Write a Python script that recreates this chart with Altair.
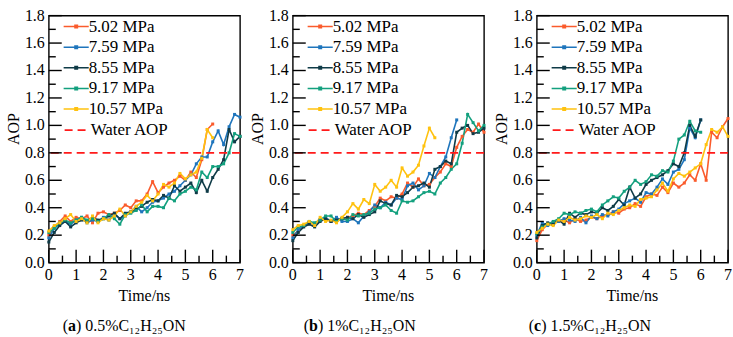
import altair as alt
import pandas as pd

# Simulation time grid (ns)
TIME = [0.0, 0.2, 0.4, 0.6, 0.8, 1.0, 1.2, 1.4, 1.6, 1.8, 2.0, 2.2, 2.4, 2.6, 2.8,
        3.0, 3.2, 3.4, 3.6, 3.8, 4.0, 4.2, 4.4, 4.6, 4.8, 5.0, 5.2, 5.4, 5.6, 5.8,
        6.0, 6.2, 6.4, 6.6, 6.8, 7.0]

PRESSURES = ["5.02 MPa", "7.59 MPa", "8.55 MPa", "9.17 MPa", "10.57 MPa"]
COLORS = ["#FA5B2C", "#1E75BC", "#0F3B47", "#13A07E", "#FFC20F"]

WATER_LABEL = "Water AOP"
WATER_AOP = 0.8
WATER_COLOR = "#FF1A1A"

Y_TICKS = [0.0, 0.2, 0.4, 0.6, 0.8, 1.0, 1.2, 1.4, 1.6, 1.8]
Y_LABELS = ["0.0", "0.2", "0.4", "0.6", "0.8", "1.0", "1.2", "1.4", "1.6", "1.8"]
Y_MINOR = [0.1, 0.3, 0.5, 0.7, 0.9, 1.1, 1.3, 1.5, 1.7]
X_TICKS = [0, 1, 2, 3, 4, 5, 6, 7]
X_LABELS = ["0", "1", "2", "3", "4", "5", "6", "7"]
X_MINOR = [0.5, 1.5, 2.5, 3.5, 4.5, 5.5, 6.5]
X_TITLE = "Time/ns"
Y_TITLE = "AOP"

# (a) 0.5% C12H25ON
A_502 = [0.20, 0.26, 0.30, 0.34, 0.30, 0.33, 0.32, 0.34, 0.29, 0.36, 0.37, 0.35, 0.36, 0.38, 0.42,
         0.40, 0.45, 0.45, 0.50, 0.59, 0.51, 0.55, 0.58, 0.60, 0.63, 0.60, 0.66, 0.62, 0.75, 0.97, 1.01]
A_759 = [0.18, 0.25, 0.28, 0.30, 0.28, 0.31, 0.33, 0.29, 0.31, 0.30, 0.33, 0.31, 0.35, 0.32, 0.34,
         0.37, 0.41, 0.37, 0.40, 0.44, 0.45, 0.47, 0.50, 0.52, 0.56, 0.60, 0.64, 0.72, 0.77, 0.77,
         0.88, 0.96, 0.86, 0.99, 1.08, 1.06]
A_855 = [0.15, 0.22, 0.27, 0.30, 0.26, 0.29, 0.31, 0.30, 0.33, 0.31, 0.32, 0.34, 0.36, 0.32, 0.36,
         0.37, 0.39, 0.41, 0.44, 0.46, 0.45, 0.49, 0.47, 0.56, 0.52, 0.55, 0.58, 0.51, 0.60, 0.52,
         0.62, 0.68, 0.75, 0.97, 0.88, 0.92]
A_917 = [0.22, 0.25, 0.29, 0.31, 0.29, 0.31, 0.33, 0.31, 0.32, 0.30, 0.32, 0.35, 0.32, 0.28, 0.35,
         0.36, 0.38, 0.42, 0.37, 0.41, 0.41, 0.40, 0.47, 0.45, 0.50, 0.52, 0.55, 0.53, 0.66, 0.62,
         0.70, 0.70, 0.72, 0.80, 0.94, 0.92]
A_1057 = [0.23, 0.27, 0.29, 0.32, 0.35, 0.30, 0.32, 0.29, 0.34, 0.29, 0.32, 0.31, 0.34, 0.39, 0.34,
          0.37, 0.41, 0.44, 0.49, 0.45, 0.50, 0.57, 0.55, 0.58, 0.65, 0.61, 0.64, 0.66, 0.76, 0.97, 0.91]

# (b) 1% C12H25ON
B_502 = [0.20, 0.23, 0.27, 0.29, 0.28, 0.31, 0.32, 0.30, 0.31, 0.32, 0.33, 0.34, 0.36, 0.35, 0.38,
         0.41, 0.47, 0.45, 0.48, 0.47, 0.50, 0.58, 0.55, 0.61, 0.56, 0.57, 0.62, 0.66, 0.72, 0.70,
         0.84, 0.92, 0.97, 0.95, 1.01, 0.95]
B_759 = [0.18, 0.24, 0.27, 0.29, 0.28, 0.31, 0.33, 0.30, 0.33, 0.30, 0.30, 0.32, 0.29, 0.34, 0.37,
         0.42, 0.40, 0.44, 0.42, 0.47, 0.46, 0.56, 0.58, 0.53, 0.56, 0.65, 0.62, 0.70, 0.77, 0.91, 1.04]
B_855 = [0.16, 0.22, 0.26, 0.28, 0.26, 0.30, 0.32, 0.30, 0.31, 0.32, 0.33, 0.32, 0.35, 0.33, 0.35,
         0.37, 0.45, 0.43, 0.42, 0.49, 0.48, 0.51, 0.55, 0.56, 0.58, 0.55, 0.68, 0.70, 0.74, 0.72,
         0.95, 0.98, 1.00, 0.94, 0.95, 0.98]
B_917 = [0.22, 0.26, 0.27, 0.30, 0.29, 0.31, 0.34, 0.34, 0.30, 0.32, 0.31, 0.35, 0.34, 0.35, 0.36,
         0.39, 0.40, 0.42, 0.38, 0.36, 0.45, 0.44, 0.45, 0.48, 0.51, 0.52, 0.50, 0.58, 0.62, 0.68,
         0.72, 0.87, 1.08, 1.02, 0.96, 1.00]
B_1057 = [0.24, 0.27, 0.28, 0.30, 0.27, 0.33, 0.30, 0.31, 0.29, 0.33, 0.37, 0.43, 0.39, 0.46, 0.43,
          0.57, 0.52, 0.55, 0.60, 0.55, 0.69, 0.63, 0.66, 0.71, 0.85, 0.98, 0.91]

# (c) 1.5% C12H25ON
C_502 = [0.16, 0.24, 0.28, 0.29, 0.30, 0.31, 0.29, 0.32, 0.30, 0.31, 0.33, 0.32, 0.34, 0.35, 0.37,
         0.36, 0.39, 0.40, 0.43, 0.41, 0.48, 0.50, 0.49, 0.55, 0.51, 0.58, 0.55, 0.58, 0.64, 0.60,
         0.72, 0.60, 0.95, 0.91, 0.99, 1.05]
C_759 = [0.20, 0.29, 0.27, 0.29, 0.30, 0.32, 0.31, 0.30, 0.33, 0.29, 0.34, 0.32, 0.35, 0.34, 0.37,
         0.39, 0.43, 0.45, 0.47, 0.44, 0.51, 0.50, 0.55, 0.61, 0.57, 0.66, 0.68, 0.75, 0.98, 0.91, 1.04]
C_855 = [0.18, 0.27, 0.29, 0.28, 0.31, 0.28, 0.36, 0.33, 0.36, 0.35, 0.37, 0.36, 0.40, 0.38, 0.41,
         0.46, 0.42, 0.55, 0.47, 0.50, 0.57, 0.60, 0.62, 0.64, 0.67, 0.72, 0.70, 0.80, 1.00, 0.92, 1.04]
C_917 = [0.21, 0.26, 0.28, 0.30, 0.32, 0.36, 0.35, 0.37, 0.36, 0.38, 0.39, 0.37, 0.42, 0.45, 0.48,
         0.47, 0.52, 0.55, 0.60, 0.57, 0.59, 0.64, 0.63, 0.67, 0.66, 0.74, 0.90, 0.93, 1.03, 0.96, 0.95]
C_1057 = [0.22, 0.25, 0.28, 0.27, 0.31, 0.30, 0.33, 0.31, 0.32, 0.34, 0.33, 0.35, 0.32, 0.36, 0.35,
          0.38, 0.40, 0.42, 0.41, 0.46, 0.47, 0.48, 0.53, 0.58, 0.52, 0.61, 0.65, 0.63, 0.66, 0.69,
          0.72, 0.86, 0.97, 0.95, 0.99, 0.92]

PANEL_SERIES = [
    [A_502, A_759, A_855, A_917, A_1057],
    [B_502, B_759, B_855, B_917, B_1057],
    [C_502, C_759, C_855, C_917, C_1057],
]
PANEL_LETTERS = ["a", "b", "c"]
PANEL_CAPTIONS = ["0.5%C₁₂H₂₅ON", "1%C₁₂H₂₅ON", "1.5%C₁₂H₂₅ON"]

# Layout
W, H = 192, 248
X_MAX, Y_MAX = 7.0, 1.8
FONT = "Liberation Serif, Times New Roman, serif"
AXIS_SIZE = 16
LEGEND_SIZE = 17
CAP_SIZE = 16
CAP_X = [14, 11, -8]                       # left edge of "(" relative to each plot
BOLD_W = {"a": 8.0, "b": 8.9, "c": 7.1}    # advance of the bold panel letter
OPEN_W = 5.3                               # advance of "("
MAJOR_LEN, MINOR_LEN = 13, 7               # tick lengths in pixels
TICK_W = 1.4

SERIES_SYMBOL = "M-1.2,-0.075H1.2V0.075H-1.2Z M-0.19,-0.19H0.19V0.19H-0.19Z"
DASH_SYMBOL = "M-1.2,0H1.2"

X_SCALE = alt.Scale(domain=[0, X_MAX], nice=False, zero=False)
Y_SCALE = alt.Scale(domain=[0, Y_MAX], nice=False)


def xenc(field="Time"):
    return alt.X(f"{field}:Q", scale=X_SCALE, axis=None)


def yenc(field="AOP"):
    return alt.Y(f"{field}:Q", scale=Y_SCALE, axis=None)


def long_table(series):
    rows = []
    for name, vals in zip(PRESSURES, series):
        for t, v in zip(TIME, vals):
            rows.append({"Time": t, "AOP": v, "Pressure": name})
    return pd.DataFrame(rows)


def tick_segments():
    # each inner tick is a two-point segment running in from the left / bottom edge;
    # the pixel lengths are converted to axis units so the segments go through the scales
    rows = []
    for vals, px in ((Y_TICKS, MAJOR_LEN), (Y_MINOR, MINOR_LEN)):
        for v in vals:
            tid = f"y{v}"
            rows.append({"tid": tid, "tx": 0.0, "ty": v})
            rows.append({"tid": tid, "tx": px * X_MAX / W, "ty": v})
    for vals, px in ((X_TICKS, MAJOR_LEN), (X_MINOR, MINOR_LEN)):
        for v in vals:
            tid = f"x{v}"
            rows.append({"tid": tid, "tx": float(v), "ty": 0.0})
            rows.append({"tid": tid, "tx": float(v), "ty": px * Y_MAX / H})
    return pd.DataFrame(rows)


def text_layer(df, **mark):
    style = dict(font=FONT, fontSize=AXIS_SIZE, color="black")
    style.update(mark)
    return alt.Chart(df).mark_text(**style)


def guides():
    ticks = alt.Chart(tick_segments()).mark_line(color="black", strokeWidth=TICK_W).encode(
        x=xenc("tx"), y=yenc("ty"), detail="tid:N")
    y_lab = text_layer(pd.DataFrame({"v": Y_TICKS, "label": Y_LABELS}),
                       align="right", baseline="middle").encode(
        y=yenc("v"), x=alt.value(-4), text="label:N")
    x_lab = text_layer(pd.DataFrame({"v": X_TICKS, "label": X_LABELS}),
                       align="center", baseline="top").encode(
        x=xenc("v"), y=alt.value(H + 4), text="label:N")
    titles = pd.DataFrame({"x": [X_TITLE], "y": [Y_TITLE]})
    x_title = text_layer(titles, align="center", baseline="top").encode(
        text="x:N", x=alt.value(W / 2), y=alt.value(H + 26))
    y_title = text_layer(titles, align="center", baseline="middle", angle=270).encode(
        text="y:N", x=alt.value(-35), y=alt.value(H / 2 - 10))
    return [ticks, y_lab, x_lab, x_title, y_title]


def panel(series, letter, caption, cap_x):
    df = long_table(series)
    fill_scale = alt.Scale(domain=PRESSURES, range=COLORS)
    # same mapping, listed in reverse so the line colours stay a separate scale
    stroke_scale = alt.Scale(domain=PRESSURES[::-1], range=COLORS[::-1])

    series_legend = alt.Legend(
        title=None, orient="none", legendX=17, legendY=0.5, direction="vertical",
        symbolType=SERIES_SYMBOL, symbolSize=441, symbolStrokeWidth=0, symbolOpacity=1,
        labelFont=FONT, labelFontSize=LEGEND_SIZE, labelColor="black", labelOffset=2,
        rowPadding=1.7, padding=0,
    )
    water_legend = alt.Legend(
        title=None, orient="none", legendX=17, legendY=103.5, direction="vertical",
        symbolType=DASH_SYMBOL, symbolSize=441, symbolStrokeColor=WATER_COLOR,
        symbolStrokeWidth=1.6, symbolDash=[8, 5],
        labelFont=FONT, labelFontSize=LEGEND_SIZE, labelColor="black", labelOffset=2,
        rowPadding=0, padding=0,
    )

    base = alt.Chart(df)
    lines = base.mark_line(strokeWidth=1.6).encode(
        x=xenc(), y=yenc(),
        stroke=alt.Stroke("Pressure:N", scale=stroke_scale, legend=None),
    )
    points = base.mark_point(shape="square", filled=True, size=9, opacity=1).encode(
        x=xenc(), y=yenc(),
        fill=alt.Fill("Pressure:N", scale=fill_scale, legend=series_legend),
    )
    water_df = pd.DataFrame({"AOP": [WATER_AOP], "Line": [WATER_LABEL]})
    water = alt.Chart(water_df).mark_rule(color=WATER_COLOR, strokeWidth=1.6).encode(
        y=yenc(),
        strokeDash=alt.StrokeDash("Line:N", scale=alt.Scale(domain=[WATER_LABEL], range=[[8, 5]]),
                                  legend=water_legend),
    )

    cap_df = pd.DataFrame({"open": ["("], "letter": [letter], "rest": [") " + caption]})
    cap_y = H + 64
    cap_open = text_layer(cap_df, fontSize=CAP_SIZE, align="left", baseline="middle").encode(
        text="open:N", x=alt.value(cap_x), y=alt.value(cap_y))
    cap_letter = text_layer(cap_df, fontSize=CAP_SIZE, fontWeight="bold", align="left",
                            baseline="middle").encode(
        text="letter:N", x=alt.value(cap_x + OPEN_W), y=alt.value(cap_y))
    cap_rest = text_layer(cap_df, fontSize=CAP_SIZE, align="left", baseline="middle").encode(
        text="rest:N", x=alt.value(cap_x + OPEN_W + BOLD_W[letter]), y=alt.value(cap_y))

    return alt.layer(lines, points, water, *guides(), cap_open, cap_letter, cap_rest).properties(
        width=W, height=H)


panels = [panel(s, l, c, x) for s, l, c, x in
          zip(PANEL_SERIES, PANEL_LETTERS, PANEL_CAPTIONS, CAP_X)]

chart = alt.hconcat(*panels, spacing=4).resolve_scale(
    fill="independent", stroke="independent", strokeDash="independent"
).resolve_legend(
    fill="independent", strokeDash="independent"
).properties(
    padding={"left": 5, "top": 6, "right": 0, "bottom": 0}
).configure_view(
    stroke="black", strokeWidth=1.4
)

chart.save("out.html", embed_options={"renderer": "svg", "actions": False})
